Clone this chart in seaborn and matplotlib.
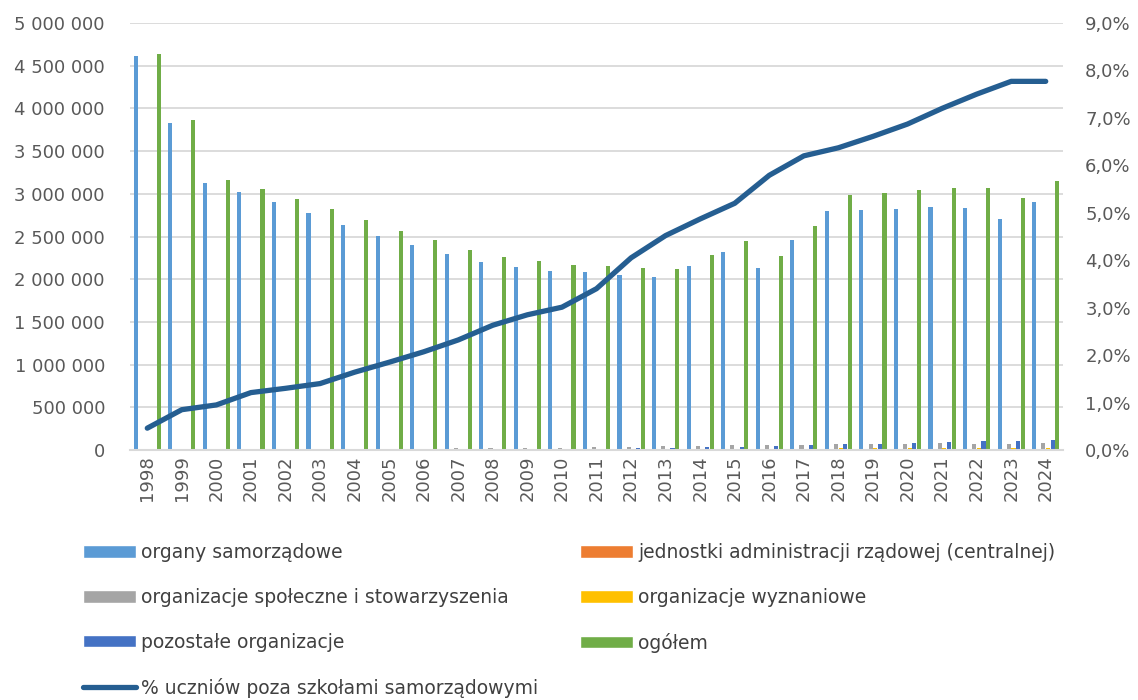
import numpy as np
import pandas as pd
import seaborn as sns
import matplotlib.pyplot as plt
from matplotlib.patches import Patch
from matplotlib.lines import Line2D
from matplotlib.ticker import FuncFormatter, MultipleLocator

# data
years = [str(y) for y in range(1998, 2025)]

samorzadowe = [4610000, 3830000, 3130000, 3020000, 2900000, 2770000, 2630000, 2510000, 2400000,
               2290000, 2200000, 2140000, 2100000, 2080000, 2050000, 2030000, 2160000, 2320000,
               2130000, 2460000, 2800000, 2810000, 2820000, 2850000, 2830000, 2710000, 2900000]
rzadowe = [4000] * 27
spoleczne = [12000, 8000, 8000, 10000, 10000, 10000, 16000, 16000, 16000, 20000, 23000, 27000, 27000,
             31000, 35000, 47000, 47000, 55000, 55000, 62000, 74000, 70000, 70000, 82000, 74000, 74000, 82000]
wyznaniowe = [2000, 2000, 2000, 2000, 2000, 2000, 2000, 2000, 2000, 2000, 2000, 3000, 3000,
              4000, 5000, 6000, 12000, 8000, 8000, 12000, 20000, 23000, 23000, 23000, 23000, 23000, 27000]
pozostale = [3000, 3000, 3000, 3000, 3000, 4000, 4000, 5000, 6000, 8000, 12000, 12000, 14000,
             16000, 20000, 23000, 35000, 39000, 51000, 59000, 70000, 74000, 82000, 94000, 101000, 105000, 117000]
ogolem = [4640000, 3870000, 3160000, 3060000, 2940000, 2820000, 2690000, 2560000, 2460000,
          2340000, 2260000, 2210000, 2170000, 2160000, 2130000, 2120000, 2280000, 2450000,
          2270000, 2620000, 2990000, 3010000, 3040000, 3070000, 3070000, 2950000, 3150000]
procent = [0.46, 0.85, 0.95, 1.21, 1.30, 1.40, 1.64, 1.85, 2.07, 2.32, 2.63, 2.85, 3.01,
           3.40, 4.05, 4.52, 4.87, 5.20, 5.79, 6.20, 6.37, 6.61, 6.87, 7.20, 7.50, 7.77, 7.77]

series = {
    "organy samorządowe": samorzadowe,
    "jednostki administracji rządowej (centralnej)": rzadowe,
    "organizacje społeczne i stowarzyszenia": spoleczne,
    "organizacje wyznaniowe": wyznaniowe,
    "pozostałe organizacje": pozostale,
    "ogółem": ogolem,
}
colors = ["#5B9BD5", "#ED7D31", "#A5A5A5", "#FFC000", "#4472C4", "#70AD47"]
line_label = "% uczniów poza szkołami samorządowymi"
line_color = "#255E91"

df = pd.DataFrame([(y, k, v) for k, vals in series.items() for y, v in zip(years, vals)],
                  columns=["rok", "typ", "liczba"])

sns.set_style("white")
plt.rcParams['font.family'] = ['DejaVu Sans']
txt = "#595959"

fig = plt.figure(figsize=(11.38, 7), dpi=100)
ax = fig.add_axes([130 / 1138, 1 - 450 / 700, 933 / 1138, 427 / 700])

sns.barplot(data=df, x="rok", y="liczba", hue="typ", hue_order=list(series.keys()),
            palette=colors, saturation=1, width=0.8, gap=0.1, linewidth=0,
            ax=ax, legend=False)

ax.set_xlim(-0.5, len(years) - 0.5)
ax.set_ylim(0, 5000000)
ax.yaxis.set_major_locator(MultipleLocator(500000))
ax.yaxis.set_major_formatter(FuncFormatter(lambda v, p: f"{int(v):,}".replace(",", " ")))
ax.grid(axis="y", color="#D9D9D9", linewidth=1.3)
ax.set_axisbelow(True)
ax.set_xlabel("")
ax.set_ylabel("")
for s in ["top", "left", "right"]:
    ax.spines[s].set_visible(False)
ax.spines["bottom"].set_color("#D9D9D9")
ax.spines["bottom"].set_linewidth(1.5)
ax.tick_params(axis="y", length=0, pad=18, labelsize=13, labelcolor=txt)
ax.tick_params(axis="x", length=0, pad=4, labelsize=13, labelcolor=txt, labelrotation=90)

ax2 = ax.twinx()
sns.lineplot(x=np.arange(len(years)), y=procent, color=line_color, linewidth=3.8, ax=ax2,
             solid_capstyle="round")
ax2.set_ylim(0, 9)
ax2.yaxis.set_major_locator(MultipleLocator(1))
ax2.yaxis.set_major_formatter(FuncFormatter(lambda v, p: f"{v:.1f}%".replace(".", ",")))
ax2.tick_params(axis="y", length=0, pad=16, labelsize=13, labelcolor=txt)
for s in ax2.spines.values():
    s.set_visible(False)
ax2.set_ylabel("")

# legend laid out in two columns like the original
names = list(series.keys())
patches = [Patch(facecolor=c, label=n) for n, c in zip(names, colors)]
line_handle = Line2D([], [], color=line_color, linewidth=3.8, solid_capstyle="round", label=line_label)

leg_kw = dict(frameon=False, fontsize=13.5, handlelength=2.85, handleheight=0.65,
              handletextpad=0.25, labelspacing=1.38, borderpad=0, borderaxespad=0,
              labelcolor="#404040", loc="upper left")
leg1 = fig.legend(handles=[patches[0], patches[2], patches[4], line_handle],
                  bbox_to_anchor=(83 / 1138, 1 - 543 / 700), **leg_kw)
leg2 = fig.legend(handles=[patches[1], patches[3], patches[5]],
                  bbox_to_anchor=(580 / 1138, 1 - 543 / 700), **leg_kw)

fig.savefig("out.png", dpi=100)
